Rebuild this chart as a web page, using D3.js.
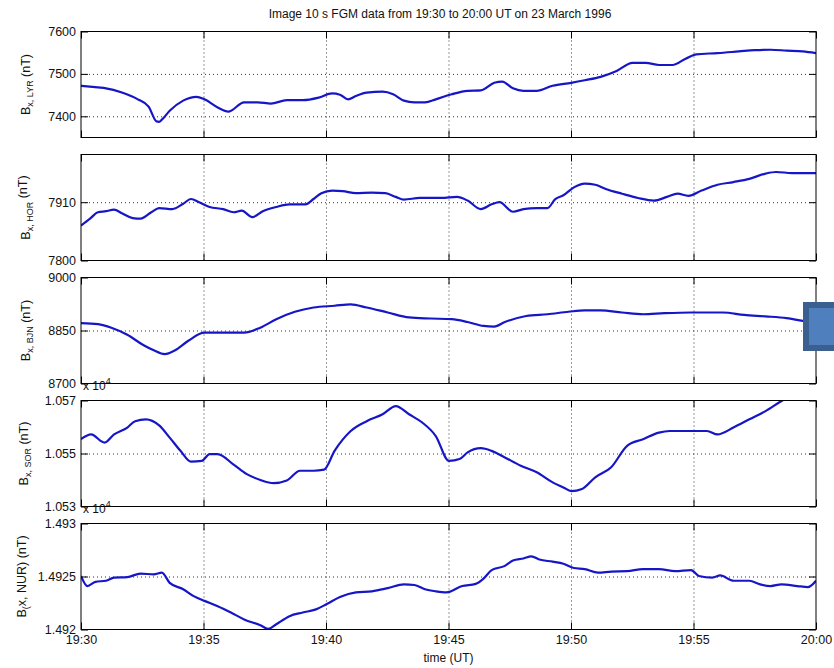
<!DOCTYPE html>
<html>
<head>
<meta charset="utf-8">
<script src="https://cdn.jsdelivr.net/npm/d3@7"></script>
<style>
body { margin: 0; background: #fff; }
text { font-family: "Liberation Sans", Arial, sans-serif; fill: #111; }
</style>
</head>
<body>
<div id="chart"></div>
<script>
// minutes after 19:30 UT, Bx in nT
var lyrData = [[0,7472],[0.69,7468],[1.02,7466],[1.67,7456],[2.32,7440],[2.76,7423],[3.08,7388],[3.19,7387],[3.30,7392],[3.62,7413],[4.17,7437],[4.71,7446],[5.04,7440],[5.58,7421],[6.01,7411],[6.66,7433],[7.21,7433],[7.75,7430],[8.40,7438],[9.05,7438],[9.70,7444],[10.25,7454],[10.57,7451],[10.90,7440],[11.22,7448],[11.66,7456],[12.31,7458],[12.74,7452],[13.18,7437],[13.61,7433],[14.04,7433],[14.48,7440],[15.13,7452],[15.78,7460],[16.32,7461],[16.87,7479],[17.19,7482],[17.63,7466],[18.06,7460],[18.60,7460],[19.25,7472],[20.01,7479],[20.56,7485],[21.21,7493],[21.86,7507],[22.51,7526],[23.05,7526],[23.59,7521],[24.14,7521],[24.68,7536],[25.11,7546],[25.98,7549],[26.85,7553],[27.50,7556],[28.15,7557],[28.80,7555],[29.46,7553],[30,7549]];
var horData = [[0,7866],[0.37,7879],[0.69,7891],[1.02,7893],[1.35,7896],[1.67,7889],[2.11,7880],[2.43,7879],[2.87,7891],[3.19,7899],[3.73,7897],[4.17,7907],[4.49,7916],[4.82,7910],[5.25,7901],[5.80,7897],[6.23,7891],[6.56,7894],[6.99,7882],[7.42,7893],[7.97,7901],[8.51,7906],[9.16,7906],[9.49,7916],[9.81,7927],[10.25,7932],[10.68,7931],[11.22,7927],[11.87,7928],[12.42,7927],[12.85,7920],[13.18,7915],[13.83,7918],[14.70,7918],[15.35,7920],[15.78,7913],[16.32,7897],[16.76,7906],[17.08,7910],[17.63,7892],[18.06,7897],[18.60,7899],[19.04,7899],[19.36,7916],[19.69,7923],[20.12,7938],[20.56,7945],[20.99,7943],[21.42,7935],[22.08,7926],[22.73,7918],[23.38,7913],[23.92,7920],[24.35,7926],[24.79,7922],[25.33,7932],[25.98,7943],[26.63,7948],[27.28,7954],[27.94,7964],[28.37,7967],[29.02,7965],[30,7965]];
var bjnData = [[0,8871],[0.69,8868],[1.24,8858],[1.89,8838],[2.54,8809],[2.97,8794],[3.41,8783],[3.84,8794],[4.38,8821],[5.04,8844],[5.80,8844],[6.66,8844],[7.32,8858],[7.97,8882],[8.73,8903],[9.49,8915],[10.35,8920],[11.01,8924],[11.66,8915],[12.52,8901],[13.39,8887],[14.26,8884],[15.13,8882],[15.78,8874],[16.43,8863],[16.87,8861],[17.30,8874],[18.17,8891],[19.04,8896],[19.90,8903],[20.56,8907],[21.21,8907],[22.08,8901],[22.94,8896],[23.81,8899],[24.90,8901],[26.20,8901],[27.07,8894],[27.94,8890],[28.80,8885],[29.46,8877],[30,8872]];
var sorData = [[0,10555.4],[0.41,10557.2],[0.96,10554.1],[1.35,10557.2],[1.89,10559.8],[2.21,10562.2],[2.65,10562.9],[3.19,10560.6],[3.62,10556],[4.06,10551],[4.49,10546.9],[4.93,10547.2],[5.25,10549.8],[5.58,10549.8],[6.23,10545.8],[6.77,10542.2],[7.32,10540],[7.86,10538.8],[8.40,10539.8],[8.94,10543.5],[9.49,10543.5],[9.92,10543.9],[10.35,10551],[11.01,10558.5],[11.66,10562.2],[12.31,10564.8],[12.85,10567.9],[13.39,10564.8],[13.94,10561.6],[14.48,10556.6],[15.02,10547.2],[15.45,10547.9],[15.78,10550.4],[16.32,10552],[16.76,10551],[17.30,10548.5],[17.95,10545.4],[18.60,10542.9],[19.25,10539.1],[19.69,10537.2],[20.01,10535.8],[20.45,10536.6],[20.99,10541],[21.64,10544.8],[22.29,10552.9],[22.94,10555.4],[23.59,10557.9],[24.03,10558.5],[25.55,10558.5],[25.98,10557.2],[26.63,10559.8],[27.28,10562.9],[27.94,10566],[28.59,10569.8],[29.24,10573],[30,10576]];
var nurData = [[0,14925.05],[0.26,14924.1],[0.59,14924.5],[1.02,14924.6],[1.35,14924.9],[1.89,14924.95],[2.43,14925.27],[2.97,14925.2],[3.30,14925.36],[3.62,14924.4],[4.17,14923.8],[4.60,14923.15],[5.04,14922.7],[5.58,14922.2],[6.12,14921.6],[6.66,14920.95],[7.32,14920.4],[7.64,14920.06],[7.97,14920.5],[8.51,14921.26],[9.05,14921.6],[9.59,14921.9],[10.03,14922.4],[10.57,14923.06],[11.22,14923.5],[11.87,14923.6],[12.52,14923.9],[13.18,14924.26],[13.61,14924.2],[14.04,14923.8],[14.48,14923.6],[14.91,14923.5],[15.56,14924.1],[16.11,14924.3],[16.43,14924.8],[16.76,14925.6],[17.30,14926.0],[17.63,14926.5],[18.06,14926.7],[18.38,14926.9],[18.71,14926.6],[19.25,14926.4],[19.69,14926.2],[20.12,14925.8],[20.56,14925.7],[21.10,14925.36],[21.64,14925.46],[22.29,14925.5],[22.94,14925.7],[23.59,14925.7],[24.25,14925.5],[24.90,14925.6],[25.22,14925.05],[25.77,14924.9],[26.09,14925.1],[26.63,14924.6],[27.28,14924.6],[27.72,14924.26],[28.15,14924.1],[28.59,14924.26],[29.24,14924.1],[29.67,14924.0],[30,14924.6]];

var yDomains = [[7350, 7600], [7800, 8000], [8700, 9000], [10530, 10570], [14920, 14930]];
var yTicks = [[7400, 7500, 7600], [7800, 7910], [8700, 8850, 9000], [10530, 10550, 10570], [14920, 14925, 14930]];
var yTickLabels = [["7400", "7500", "7600"], ["7800", "7910"], ["8700", "8850", "9000"], ["1.053", "1.055", "1.057"], ["1.492", "1.4925", "1.493"]];
var stations = ["LYR", "HOR", "BJN", "SOR", "NUR"];
var xTickLabels = ["19:30", "19:35", "19:40", "19:45", "19:50", "19:55", "20:00"];
var titleText = "Image 10 s FGM data from 19:30 to 20:00 UT on 23 March 1996";

var allData = [lyrData, horData, bjnData, sorData, nurData];

var width = 834, height = 668;
var left = 81, right = 816;
var panelTop = 31.5, panelStep = 123, panelH = 106;
var lineColor = "#1616c6";

var svg = d3.select("#chart").append("svg")
    .attr("width", width)
    .attr("height", height);

var t0 = Date.UTC(1996, 2, 23, 19, 30);
var x = d3.scaleUtc()
    .domain([new Date(t0), new Date(t0 + 30 * 60000)])
    .range([left, right]);
var xTickVals = xTickLabels.map((s, i) => new Date(t0 + i * 5 * 60000));

svg.append("text")
    .attr("x", 440)
    .attr("y", 18)
    .attr("text-anchor", "middle")
    .style("font-size", "12px")
    .text(titleText);

allData.forEach((data, k) => {
    let top = panelTop + k * panelStep;
    let bottom = top + panelH;
    let y = d3.scaleLinear().domain(yDomains[k]).range([bottom, top]);
    let g = svg.append("g");

    // grid
    g.append("g")
        .attr("transform", "translate(0," + bottom + ")")
        .call(d3.axisBottom(x).tickValues(xTickVals.slice(1, -1)).tickSize(-panelH).tickFormat(""))
        .call(a => a.select(".domain").remove())
        .selectAll("line")
        .attr("stroke", "#333")
        .attr("stroke-dasharray", "1,3");
    let gridY = yTicks[k].filter(v => v > yDomains[k][0] && v < yDomains[k][1]);
    g.append("g")
        .attr("transform", "translate(" + left + ",0)")
        .call(d3.axisRight(y).tickValues(gridY).tickSize(right - left).tickFormat(""))
        .call(a => a.select(".domain").remove())
        .selectAll("line")
        .attr("stroke", "#333")
        .attr("stroke-dasharray", "1,3");

    // data line
    let clipId = "clip" + k;
    svg.append("clipPath").attr("id", clipId)
        .append("rect")
        .attr("x", left).attr("y", top)
        .attr("width", right - left).attr("height", panelH);
    let line = d3.line()
        .curve(d3.curveMonotoneX)
        .x(d => x(new Date(t0 + d[0] * 60000)))
        .y(d => y(d[1]));
    g.append("path")
        .datum(data)
        .attr("clip-path", "url(#" + clipId + ")")
        .attr("fill", "none")
        .attr("stroke", lineColor)
        .attr("stroke-width", 2.2)
        .attr("stroke-linejoin", "round")
        .attr("d", line);

    // axes with inward ticks
    let labels = yTickLabels[k];
    let yAxis = g.append("g")
        .attr("transform", "translate(" + left + ",0)")
        .call(d3.axisLeft(y).tickValues(yTicks[k]).tickSizeInner(-7).tickSizeOuter(0).tickPadding(5)
            .tickFormat((d, i) => labels[i]));
    yAxis.selectAll("text").style("font-size", "12.5px").attr("fill", "#111");
    g.append("g")
        .attr("transform", "translate(" + right + ",0)")
        .call(d3.axisRight(y).tickValues(yTicks[k]).tickSizeInner(-7).tickSizeOuter(0).tickFormat(""));
    g.append("g")
        .attr("transform", "translate(0," + top + ")")
        .call(d3.axisTop(x).tickValues(xTickVals).tickSizeInner(-7).tickSizeOuter(0).tickFormat(""));
    let xAxis = g.append("g")
        .attr("transform", "translate(0," + bottom + ")")
        .call(d3.axisBottom(x).tickValues(xTickVals).tickSizeInner(-7).tickSizeOuter(0).tickPadding(6)
            .tickFormat((d, i) => k == 4 ? xTickLabels[i] : ""));
    xAxis.selectAll("text").style("font-size", "12.5px").attr("fill", "#111");
    g.selectAll(".domain").remove();
    g.selectAll(".tick line").filter(function() { return !this.getAttribute("stroke-dasharray"); })
        .attr("stroke", "#000");

    g.append("rect")
        .attr("x", left).attr("y", top)
        .attr("width", right - left).attr("height", panelH)
        .attr("fill", "none")
        .attr("stroke", "#000")
        .attr("stroke-width", 1);

    // y label
    let lx = k < 3 ? 30 : (k == 3 ? 28 : 26);
    let lab = svg.append("text")
        .attr("transform", "translate(" + lx + "," + (top + panelH / 2) + ") rotate(-90)")
        .attr("text-anchor", "middle")
        .style("font-size", "12.5px");
    lab.append("tspan").text("B");
    if (k == 4) {
        lab.append("tspan").attr("dy", 3).style("font-size", "9px").text("(");
        lab.append("tspan").attr("dy", -3).text("x, NUR) (nT)");
    } else {
        lab.append("tspan").attr("dy", 3).style("font-size", "9px").text("x, " + stations[k]);
        if (k == 1) {
            lab.append("tspan").attr("dy", -6).text(" (nT)");
        } else {
            lab.append("tspan").attr("dy", -3).text(" (nT)");
        }
    }

    // exponent note
    if (k >= 3) {
        let m = svg.append("text")
            .attr("x", 83)
            .attr("y", top - 11)
            .style("font-size", "12px");
        m.append("tspan").text("x 10");
        m.append("tspan").attr("dy", -6).style("font-size", "9px").text("4");
    }
});

svg.append("text")
    .attr("x", (left + right) / 2)
    .attr("y", 662)
    .attr("text-anchor", "middle")
    .style("font-size", "12px")
    .text("time (UT)");

// blue box overlay on the right edge
svg.append("rect")
    .attr("x", 803).attr("y", 302)
    .attr("width", 40).attr("height", 49)
    .attr("fill", "#3b5f8e");
svg.append("rect")
    .attr("x", 809).attr("y", 308)
    .attr("width", 30).attr("height", 37)
    .attr("fill", "#4f80bd");
</script>
</body>
</html>
